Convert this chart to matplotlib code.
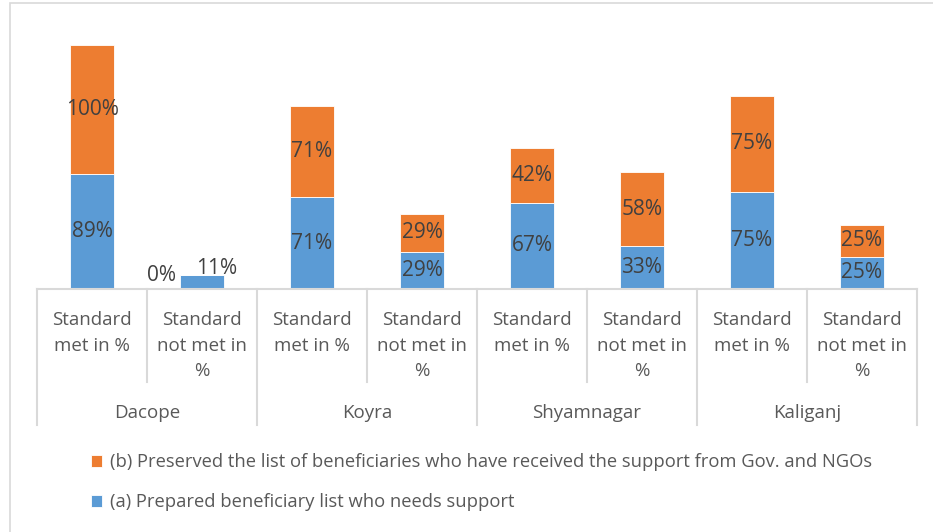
import matplotlib
matplotlib.use('agg')
import matplotlib.pyplot as plt
from matplotlib.patches import Rectangle
import numpy as np

plt.rcParams['font.family'] = ['Open Sans', 'DejaVu Sans']

districts = ['Dacope', 'Koyra', 'Shyamnagar', 'Kaliganj']
sub_labels = ['Standard\nmet in %', 'Standard\nnot met in\n%']
prepared = [89, 11, 71, 29, 67, 33, 75, 25]
preserved = [100, 0, 71, 29, 42, 58, 75, 25]
series_a = '(a) Prepared beneficiary list who needs support'
series_b = '(b) Preserved the list of beneficiaries who have received the support from Gov. and NGOs'

blue = '#5B9BD5'
orange = '#ED7D31'
grid_c = '#D9D9D9'
text_c = '#595959'
label_c = '#404040'

W, H = 933, 532
fig = plt.figure(figsize=(W / 100, H / 100), dpi=100)

# outer chart border (only left and top visible)
fig.patches.append(Rectangle((10 / W, -0.1), 1.2, (H - 3) / H + 0.1,
                             transform=fig.transFigure, fill=False,
                             edgecolor=grid_c, linewidth=1.2))

ax = fig.add_axes([37 / W, (H - 289) / H, 880 / W, 258 / H])
x = np.arange(len(prepared)) + 0.5
bars_a = ax.bar(x, prepared, width=0.4, color=blue, edgecolor='white', linewidth=0.6)
bars_b = ax.bar(x, preserved, width=0.4, bottom=prepared, color=orange,
                edgecolor='white', linewidth=0.6)

ax.set_xlim(0, len(prepared))
ax.set_ylim(0, 200)
for s in ['top', 'right', 'left']:
    ax.spines[s].set_visible(False)
ax.spines['bottom'].set_color(grid_c)
ax.spines['bottom'].set_linewidth(1.5)
ax.set_xticks([])
ax.set_yticks([])

fs = 13.5
dfs = 15
for i in range(len(prepared)):
    a, b = prepared[i], preserved[i]
    if b == 0:
        # small stack: labels pushed beside / above the bar
        ax.text(x[i] - 0.37, a - 0.5, '{}%'.format(b), ha='center', va='center',
                fontsize=dfs, color=label_c)
        ax.text(x[i] + 0.13, a + 5, '{}%'.format(a), ha='center', va='center',
                fontsize=dfs, color=label_c)
        continue
    ax.text(x[i], a / 2, '{}%'.format(a), ha='center', va='center',
            fontsize=dfs, color=label_c)
    ax.text(x[i], a + b / 2, '{}%'.format(b), ha='center', va='center',
            fontsize=dfs, color=label_c)

trans = ax.get_xaxis_transform()
px = 1 / 258
for i in range(len(prepared)):
    ax.text(x[i], -22 * px, sub_labels[i % 2], transform=trans, ha='center', va='top',
            fontsize=fs, color=text_c, linespacing=1.54)
for k in range(len(prepared) + 1):
    depth = 136 if k % 2 == 0 else 93
    ax.plot([k, k], [0, -depth * px], transform=trans, color=grid_c,
            linewidth=1.5, clip_on=False)
for g, name in enumerate(districts):
    ax.text(2 * g + 1, -124 * px, name, transform=trans, ha='center', va='center',
            fontsize=fs, color=text_c)

fig.legend([bars_b, bars_a], [series_b, series_a], loc='upper left',
           bbox_to_anchor=(82 / W, (H - 444) / H), frameon=False, fontsize=13.2,
           labelcolor=text_c, handlelength=0.6, handleheight=0.6,
           handletextpad=0.4, labelspacing=1.2, borderpad=0)

fig.savefig('out.png', dpi=100)
